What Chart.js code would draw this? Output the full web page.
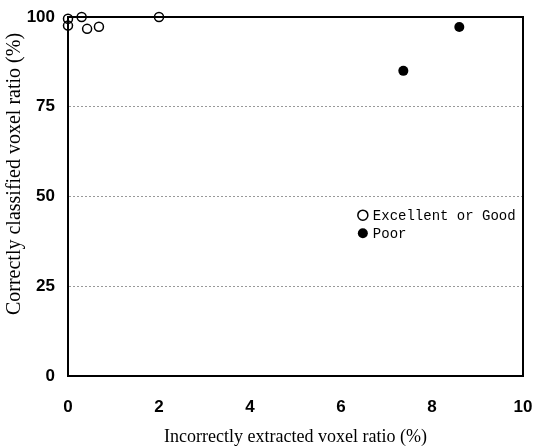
<!DOCTYPE html>
<html>
<head>
<meta charset="utf-8">
<script src="https://cdn.jsdelivr.net/npm/chart.js@4/dist/chart.umd.min.js"></script>
<style>
  html, body { margin: 0; padding: 0; background: #fff; }
  #wrap { width: 534px; height: 446px; }
</style>
</head>
<body>
<div id="wrap"><canvas id="chart"></canvas></div>
<script>
// values
const goodX = [0, 0, 0.3, 0.42, 0.68, 2];
const goodY = [99.5, 97.6, 100, 96.7, 97.3, 100];
const poorX = [7.37, 8.6];
const poorY = [85, 97.2];
const seriesNames = ['Excellent or Good', 'Poor'];
const xTicks = [0, 2, 4, 6, 8, 10];
const yTicks = [0, 25, 50, 75, 100];
const xTitle = 'Incorrectly extracted voxel ratio (%)';
const yTitle = '         Correctly classified voxel ratio (%)';

const toPoints = (xs, ys) => xs.map((x, i) => ({ x: x, y: ys[i] }));

// frame + in-plot legend
const framePlugin = {
  id: 'frame',
  afterDraw(chart) {
    const ctx = chart.ctx;
    const a = chart.chartArea;
    ctx.save();
    ctx.strokeStyle = '#000';
    ctx.lineWidth = 2;
    ctx.strokeRect(a.left, a.top, a.right - a.left, a.bottom - a.top);

    const xs = chart.scales.x, ys = chart.scales.y;
    const lx = xs.getPixelForValue(6.48);
    let ly = ys.getPixelForValue(44.8);
    ctx.font = '14px "Liberation Mono", monospace';
    ctx.textBaseline = 'middle';
    ctx.fillStyle = '#000';
    chart.data.datasets.forEach((ds, i) => {
      ctx.beginPath();
      ctx.arc(lx, ly, 5, 0, Math.PI * 2);
      if (i === 0) {
        ctx.lineWidth = 1.5;
        ctx.stroke();
      } else {
        ctx.fill();
      }
      ctx.fillText(seriesNames[i], lx + 10, ly + 1);
      ly += 18;
    });
    ctx.restore();
  }
};

new Chart(document.getElementById('chart'), {
  type: 'scatter',
  data: {
    datasets: [
      {
        label: seriesNames[0],
        data: toPoints(goodX, goodY),
        clip: false,
        pointStyle: 'circle',
        pointRadius: 4.5,
        pointBorderWidth: 1.5,
        borderColor: '#000',
        backgroundColor: 'rgba(255,255,255,0)'
      },
      {
        label: seriesNames[1],
        data: toPoints(poorX, poorY),
        clip: false,
        pointStyle: 'circle',
        pointRadius: 5,
        pointBorderWidth: 0,
        borderColor: '#000',
        backgroundColor: '#000'
      }
    ]
  },
  options: {
    responsive: true,
    maintainAspectRatio: false,
    animation: false,
    layout: { padding: { top: 17, right: 11, left: 0, bottom: 0 } },
    plugins: {
      legend: { display: false },
      tooltip: { enabled: false }
    },
    scales: {
      x: {
        type: 'linear',
        min: 0,
        max: 10,
        afterBuildTicks: s => { s.ticks = xTicks.map(v => ({ value: v })); },
        afterFit: s => { s.height = 70; s.paddingLeft = 0; s.paddingRight = 0; },
        grid: { display: false, drawTicks: false },
        border: { color: '#000', width: 2 },
        ticks: {
          padding: 23,
          color: '#000',
          font: { family: '"Liberation Sans", Arial, sans-serif', size: 17, weight: 'bold', lineHeight: 1 }
        },
        title: {
          display: true,
          text: xTitle,
          color: '#000',
          padding: { top: 0, bottom: 0 },
          font: { family: '"Liberation Serif", "Times New Roman", serif', size: 18, lineHeight: 1 }
        }
      },
      y: {
        type: 'linear',
        min: 0,
        max: 100,
        afterBuildTicks: s => { s.ticks = yTicks.map(v => ({ value: v })); },
        afterFit: s => { s.width = 68; s.paddingTop = 0; s.paddingBottom = 0; },
        grid: {
          drawTicks: false,
          color: ctx => (ctx.tick && (ctx.tick.value === 0 || ctx.tick.value === 100)) ? 'rgba(0,0,0,0)' : '#999',
          lineWidth: 1
        },
        border: { color: '#000', width: 2, dash: [2, 2] },
        ticks: {
          padding: 13,
          color: '#000',
          font: { family: '"Liberation Sans", Arial, sans-serif', size: 17, weight: 'bold', lineHeight: 1 }
        },
        title: {
          display: true,
          text: yTitle,
          color: '#000',
          padding: { top: 5, bottom: 0 },
          font: { family: '"Liberation Serif", "Times New Roman", serif', size: 20, lineHeight: 1 }
        }
      }
    }
  },
  plugins: [framePlugin]
});
</script>
</body>
</html>
